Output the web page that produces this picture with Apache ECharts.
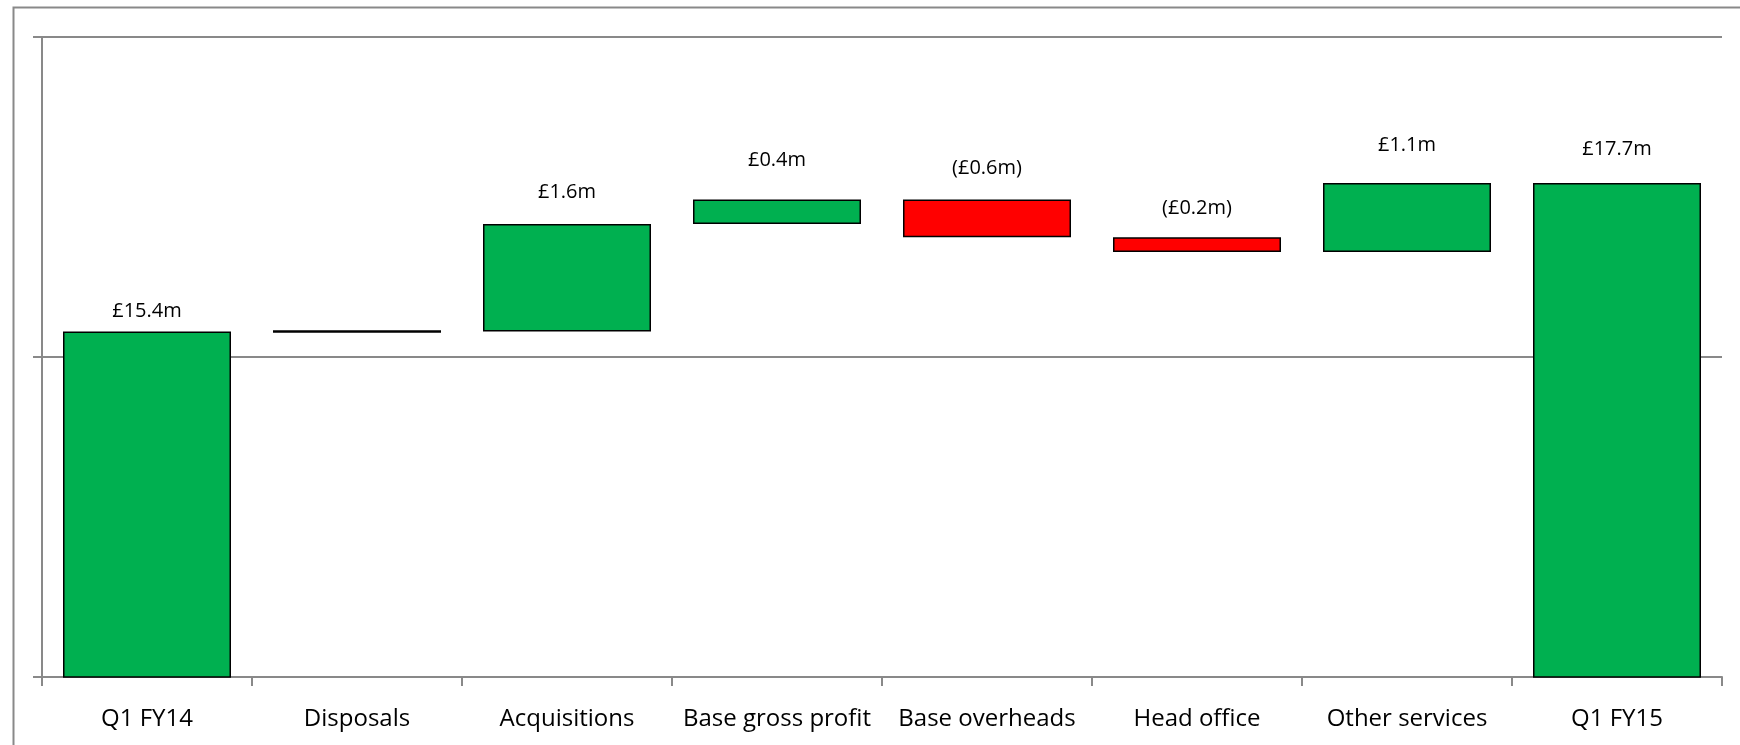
<!DOCTYPE html>
<html>
<head>
<meta charset="utf-8">
<script src="https://cdn.jsdelivr.net/npm/echarts@6/dist/echarts.min.js"></script>
<style>
html,body{margin:0;padding:0;background:#fff;}
#chart{width:1740px;height:745px;}
</style>
</head>
<body>
<div id="chart"></div>
<script>
// ---- data ----
const categories = ['Q1 FY14', 'Disposals', 'Acquisitions', 'Base gross profit', 'Base overheads', 'Head office', 'Other services', 'Q1 FY15'];
const startValue = 15.4;
const changes = [0, 1.68, 0.38, -0.59, -0.23, 1.08]; // Disposals .. Other services
const endValue = 17.72;
const valueLabels = ['£15.4m', '', '£1.6m', '£0.4m', '(£0.6m)', '(£0.2m)', '£1.1m', '£17.7m'];
const yMin = 10, yMax = 20, yInterval = 5;

// ---- styling ----
const GREEN = '#00B050', RED = '#FF0000', GRAY = '#898989';
const labelGaps = [10.5, 0, 22, 29.5, 21, 19, 28, 24];

// ---- build waterfall ----
const baseData = [];
const barData = [];
baseData.push(0);
barData.push({ value: startValue, itemStyle: { color: GREEN } });
let total = startValue;
changes.forEach(function (d) {
  if (d >= 0) {
    baseData.push(total);
    barData.push({ value: d, itemStyle: d === 0 ? { color: '#000', borderColor: '#000', borderWidth: 2.5 } : { color: GREEN } });
  } else {
    baseData.push(total + d);
    barData.push({ value: -d, itemStyle: { color: RED } });
  }
  total += d;
});
baseData.push(0);
barData.push({ value: endValue, itemStyle: { color: GREEN } });
barData.forEach(function (it, i) { it.label = { distance: labelGaps[i] }; });

const chart = echarts.init(document.getElementById('chart'), null, { renderer: 'canvas' });
chart.setOption({
  animation: false,
  backgroundColor: '#fff',
  graphic: [{
    type: 'rect', left: 11, top: 5, shape: { width: 1760, height: 760 },
    style: { fill: 'none', stroke: GRAY, lineWidth: 2 }, silent: true, z: 100
  }],
  grid: { left: 42, right: 18, top: 37, bottom: 68 },
  xAxis: {
    type: 'category',
    data: categories,
    axisLine: { lineStyle: { color: GRAY, width: 2 } },
    axisTick: { show: true, length: 9, lineStyle: { color: GRAY, width: 2 } },
    axisLabel: { color: '#000', fontSize: 24, fontFamily: 'Open Sans', margin: 30, interval: 0 }
  },
  yAxis: {
    type: 'value',
    min: yMin, max: yMax, interval: yInterval,
    axisLine: { show: true, lineStyle: { color: GRAY, width: 2 } },
    axisTick: { show: true, length: 9, lineStyle: { color: GRAY, width: 2 } },
    axisLabel: { show: false },
    splitLine: { show: true, lineStyle: { color: GRAY, width: 2 } }
  },
  series: [
    {
      type: 'bar', stack: 'w', data: baseData, barWidth: '80%', silent: true,
      itemStyle: { color: 'rgba(0,0,0,0)', borderWidth: 0 }
    },
    {
      type: 'bar', stack: 'w', data: barData, barWidth: '80%',
      itemStyle: { borderColor: '#000', borderWidth: 1.5 },
      label: {
        show: true, position: 'top', color: '#000', fontSize: 20, fontFamily: 'Open Sans',
        formatter: function (p) { return valueLabels[p.dataIndex]; }
      }
    }
  ]
});
</script>
</body>
</html>
